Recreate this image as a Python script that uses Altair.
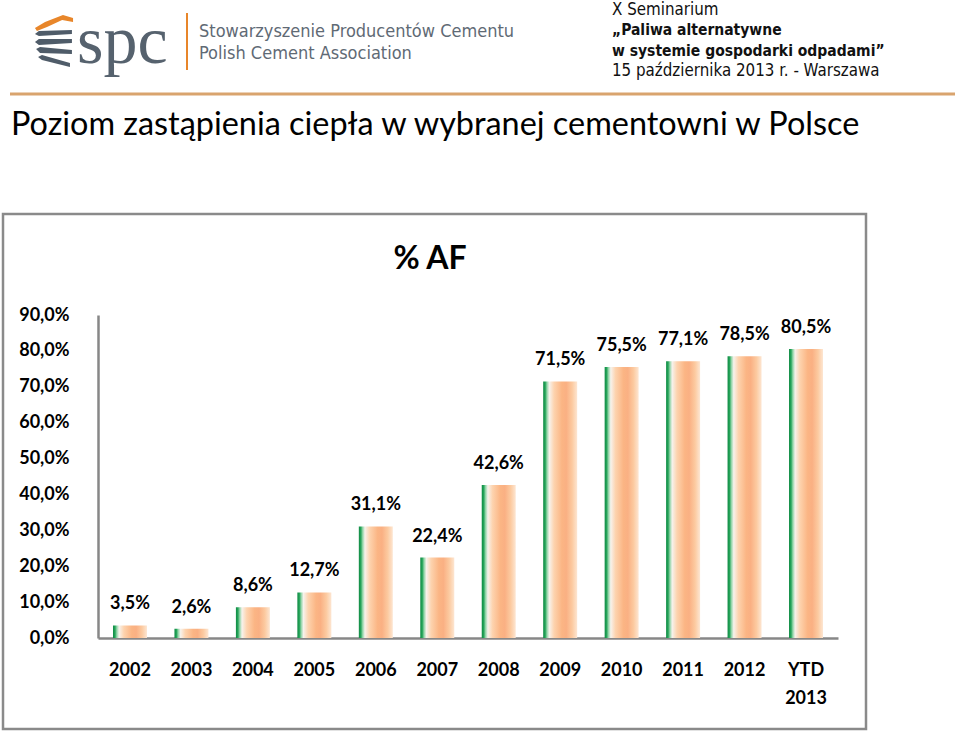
import altair as alt
import pandas as pd

# ---------------- data ----------------
years = ["2002", "2003", "2004", "2005", "2006", "2007", "2008", "2009",
         "2010", "2011", "2012", "YTD 2013"]
shares = [3.5, 2.6, 8.6, 12.7, 31.1, 22.4, 42.6, 71.5, 75.5, 77.1, 78.5, 80.5]
y_ticks = [0, 10, 20, 30, 40, 50, 60, 70, 80, 90]

chart_title = "% AF"
slide_title = "Poziom zastąpienia ciepła w wybranej cementowni w Polsce"
logo_text = "spc"
org_lines = ["Stowarzyszenie Producentów Cementu", "Polish Cement Association"]
event_lines = ["X Seminarium", "„Paliwa alternatywne",
               "w systemie gospodarki odpadami”",
               "15 października 2013 r. - Warszawa"]
event_bold = [False, True, True, False]

df = pd.DataFrame({"year": years, "share": shares})
one = pd.DataFrame({"k": [0]})

# plot-area origin on the page
OX, OY = 98, 315
PW, PH = 740, 323

FONT = "Lato"
AXIS_GREY = "#878787"

bar_gradient = alt.LinearGradient(
    gradient="linear", x1=0, x2=1, y1=0, y2=0,
    stops=[
        alt.GradientStop(color="#0f8a44", offset=0.0),
        alt.GradientStop(color="#26a55a", offset=0.06),
        alt.GradientStop(color="#8fd4a6", offset=0.11),
        alt.GradientStop(color="#f7f2ec", offset=0.18),
        alt.GradientStop(color="#fdd3ae", offset=0.32),
        alt.GradientStop(color="#fbb584", offset=0.55),
        alt.GradientStop(color="#fab083", offset=0.68),
        alt.GradientStop(color="#fccaa0", offset=0.85),
        alt.GradientStop(color="#fde6d2", offset=1.0),
    ],
)

x_enc = alt.X(
    "year:N", sort=years,
    scale=alt.Scale(paddingInner=0.447, paddingOuter=0.244),
    axis=alt.Axis(
        title=None, labelAngle=0, ticks=False, tickSize=0,
        labelFont=FONT, labelFontWeight="bold", labelFontSize=18,
        labelColor="#000000", labelPadding=23,
        labelExpr="split(datum.label, ' ')", labelLineHeight=28,
        domainColor=AXIS_GREY, domainWidth=2.5,
    ),
)
y_enc = alt.Y(
    "share:Q",
    scale=alt.Scale(domain=[0, 90], nice=False),
    axis=alt.Axis(
        title=None, values=y_ticks, tickCount=len(y_ticks), grid=False,
        ticks=False, tickSize=0, labelOverlap=False, labelBound=False,
        labelExpr="replace(format(datum.value, '.1f'), '.', ',') + '%'",
        labelFont=FONT, labelFontWeight="bold", labelFontSize=18,
        labelColor="#000000", labelPadding=29,
        domainColor=AXIS_GREY, domainWidth=2.5,
    ),
)

bars = alt.Chart(df).mark_bar(color=bar_gradient).encode(x=x_enc, y=y_enc)

labels = alt.Chart(df).transform_calculate(
    lbl="replace(format(datum.share, '.1f'), '.', ',') + '%'"
).mark_text(
    font=FONT, fontWeight="bold", fontSize=18, color="#000000",
    baseline="alphabetic", dy=-16,
).encode(x=x_enc, y=y_enc, text="lbl:N")

frame = alt.Chart(one).mark_rect(
    fillOpacity=0, stroke="#8a8a8a", strokeWidth=2.5
).encode(
    x=alt.value(3 - OX), x2=alt.value(866 - OX),
    y=alt.value(214 - OY), y2=alt.value(729 - OY),
)

title_af = alt.Chart(one).mark_text(
    font=FONT, fontWeight="bold", fontSize=32, color="#000000",
    align="center", baseline="alphabetic",
).encode(x=alt.value(430 - OX), y=alt.value(269 - OY), text=alt.value(chart_title))

slide_t = alt.Chart(one).mark_text(
    font=FONT, fontSize=32.4, color="#000000", align="left", baseline="alphabetic",
).encode(x=alt.value(11 - OX), y=alt.value(135 - OY), text=alt.value(slide_title))

sep_line = alt.Chart(one).mark_rule(color="#d9a46e", strokeWidth=3).encode(
    x=alt.value(10 - OX), x2=alt.value(955 - OX), y=alt.value(94 - OY)
)

logo_bar = alt.Chart(one).mark_rule(color="#e8862a", strokeWidth=2).encode(
    x=alt.value(187 - OX), y=alt.value(13 - OY), y2=alt.value(70 - OY)
)

orange_path = ("M-0.68,-0.43 L-0.32,-0.64 L0.32,-0.89 L0.68,-0.79 L0.68,-0.64 "
               "L0.29,-0.71 L-0.25,-0.46 L-0.61,-0.32 Z")
grey_path = ("M-0.68,-0.21 L-0.54,-0.32 L0.64,-0.36 L0.64,-0.21 L-0.54,-0.14 Z "
             "M-0.68,0.07 L-0.54,-0.04 L0.64,-0.04 L0.64,0.11 L-0.54,0.18 Z "
             "M-0.64,0.32 L-0.5,0.25 L0.64,0.36 L0.64,0.5 L-0.5,0.46 Z "
             "M-0.57,0.61 L-0.43,0.54 L0.57,0.82 L0.57,0.96 L-0.43,0.71 Z")
logo_orange = alt.Chart(one).mark_point(
    shape=orange_path, filled=True, fill="#e8862a", opacity=1, size=3136
).encode(x=alt.value(54 - OX), y=alt.value(40 - OY))
logo_grey = alt.Chart(one).mark_point(
    shape=grey_path, filled=True, fill="#4f5c69", opacity=1, size=3136
).encode(x=alt.value(54 - OX), y=alt.value(40 - OY))

logo_word = alt.Chart(one).mark_text(
    font="Liberation Serif", fontSize=68, color="#56626e",
    align="left", baseline="alphabetic",
).encode(x=alt.value(77 - OX), y=alt.value(63 - OY), text=alt.value(logo_text))

layers = [frame, bars, labels, title_af, slide_t, sep_line, logo_bar,
          logo_orange, logo_grey, logo_word]

for i, line in enumerate(org_lines):
    layers.append(alt.Chart(one).mark_text(
        font="DejaVu Sans Condensed", fontSize=18, color="#5f6a75",
        align="left", baseline="alphabetic",
    ).encode(x=alt.value(199 - OX), y=alt.value(37 + 22 * i - OY), text=alt.value(line)))

for i, (line, b) in enumerate(zip(event_lines, event_bold)):
    layers.append(alt.Chart(one).mark_text(
        font="DejaVu Sans Condensed", fontSize=15.5 if b else 16.8, color="#111111",
        fontWeight="bold" if b else "normal",
        align="left", baseline="alphabetic",
    ).encode(x=alt.value(612 - OX), y=alt.value(15 + 20.3 * i - OY), text=alt.value(line)))

chart = alt.layer(*layers).properties(
    width=PW, height=PH,
    padding={"left": OX, "top": OY, "right": 960 - OX - PW, "bottom": 732 - OY - PH},
    autosize=alt.AutoSizeParams(type="none"),
    background="white",
).configure_view(stroke=None)

chart.save("out.html", embed_options={"renderer": "svg", "actions": False})
